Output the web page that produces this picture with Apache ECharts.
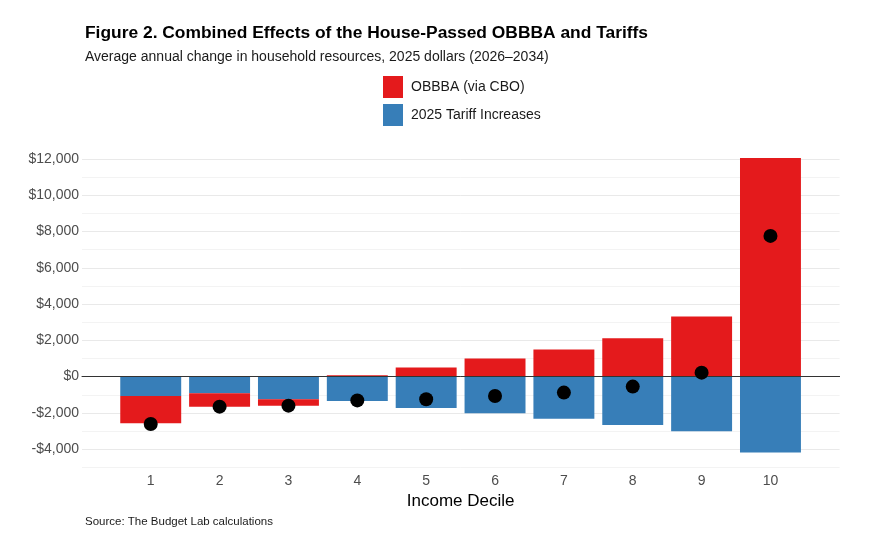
<!DOCTYPE html>
<html>
<head>
<meta charset="UTF-8">
<title>Figure 2</title>
<script src="https://cdn.jsdelivr.net/npm/echarts@6/dist/echarts.min.js"></script>
<style>
  html, body { margin: 0; padding: 0; background: #fff; }
  #main { width: 890px; height: 555px; }
</style>
</head>
<body>
<div id="main"></div>
<script>
// data
var deciles = ['1', '2', '3', '4', '5', '6', '7', '8', '9', '10'];
var obbba   = [-1500, -735, -350, 75, 500, 1000, 1490, 2120, 3310, 12060];
var tariffs = [-1070, -920, -1250, -1340, -1730, -2020, -2320, -2670, -3015, -4190];
var net     = [-2610, -1655, -1600, -1310, -1250, -1070, -880, -550, 220, 7760];
var yTicks  = [-4000, -2000, 0, 2000, 4000, 6000, 8000, 10000, 12000];

function money(v) {
  if (yTicks.indexOf(v) < 0) return '';
  var s = '$' + Math.abs(v).toLocaleString('en-US');
  return v < 0 ? '-' + s : s;
}

var chart = echarts.init(document.getElementById('main'));
var font = 'Liberation Sans, Arial, sans-serif';

var option = {
  animation: false,
  textStyle: { fontFamily: font },
  title: [
    {
      text: 'Figure 2. Combined Effects of the House-Passed OBBBA and Tariffs',
      left: 85, top: 25, padding: 0,
      textStyle: { fontSize: 17.4, fontWeight: 'bold', color: '#000', fontFamily: font }
    },
    {
      text: 'Average annual change in household resources, 2025 dollars (2026\u20132034)',
      left: 85, top: 50, padding: 0,
      textStyle: { fontSize: 14, fontWeight: 'normal', color: '#1a1a1a', fontFamily: font }
    },
    {
      text: 'Source: The Budget Lab calculations',
      left: 85, top: 516, padding: 0,
      textStyle: { fontSize: 11.5, fontWeight: 'normal', color: '#1a1a1a', fontFamily: font }
    }
  ],
  legend: {
    orient: 'vertical',
    left: 383, top: 76, padding: 0,
    itemWidth: 20, itemHeight: 22, itemGap: 6,
    data: ['OBBBA (via CBO)', '2025 Tariff Increases'],
    textStyle: { fontSize: 14, color: '#1a1a1a', fontFamily: font, padding: [2, 0, 0, 3] },
    icon: 'rect'
  },
  grid: [
    // panel: gridlines, y labels, zero line
    { left: 82, width: 757.6, top: 159, height: 308.3 },
    // bars and dots
    { left: 116.3, width: 688.6, top: 159, height: 308.3 }
  ],
  xAxis: [
    {
      gridIndex: 0,
      type: 'category',
      data: deciles,
      z: 3,
      axisLine: { show: true, onZero: true, lineStyle: { color: '#333', width: 1 } },
      axisTick: { show: false },
      axisLabel: { show: false },
      splitLine: { show: false }
    },
    {
      gridIndex: 1,
      type: 'category',
      data: deciles,
      name: 'Income Decile',
      nameLocation: 'middle',
      nameGap: 23,
      nameTextStyle: { fontSize: 17, color: '#000', fontFamily: font },
      axisLine: { show: false },
      axisTick: { show: false },
      splitLine: { show: false },
      axisLabel: { margin: 7, fontSize: 14, color: '#4d4d4d' }
    }
  ],
  yAxis: [
    {
      gridIndex: 0,
      type: 'value',
      min: -5000, max: 12000, interval: 1000,
      axisLine: { show: false },
      axisTick: { show: false },
      axisLabel: { margin: 3, fontSize: 14, color: '#4d4d4d', formatter: money },
      splitLine: { lineStyle: { color: ['#f3f3f3', '#e9e9e9'], width: 1 } }
    },
    {
      gridIndex: 1,
      type: 'value',
      min: -5000, max: 12000, interval: 1000,
      axisLine: { show: false },
      axisTick: { show: false },
      axisLabel: { show: false },
      splitLine: { show: false }
    }
  ],
  series: [
    {
      name: '2025 Tariff Increases',
      type: 'bar',
      xAxisIndex: 1, yAxisIndex: 1,
      stack: 'total',
      barCategoryGap: '11.5%',
      clip: false,
      itemStyle: { color: '#377EB8' },
      data: tariffs
    },
    {
      name: 'OBBBA (via CBO)',
      type: 'bar',
      xAxisIndex: 1, yAxisIndex: 1,
      stack: 'total',
      barCategoryGap: '11.5%',
      clip: false,
      itemStyle: { color: '#E41A1C' },
      data: obbba
    },
    {
      name: 'Net',
      type: 'scatter',
      xAxisIndex: 1, yAxisIndex: 1,
      symbol: 'circle',
      symbolSize: 14,
      z: 5,
      itemStyle: { color: '#000', opacity: 1 },
      data: net
    }
  ]
};

chart.setOption(option);
</script>
</body>
</html>
